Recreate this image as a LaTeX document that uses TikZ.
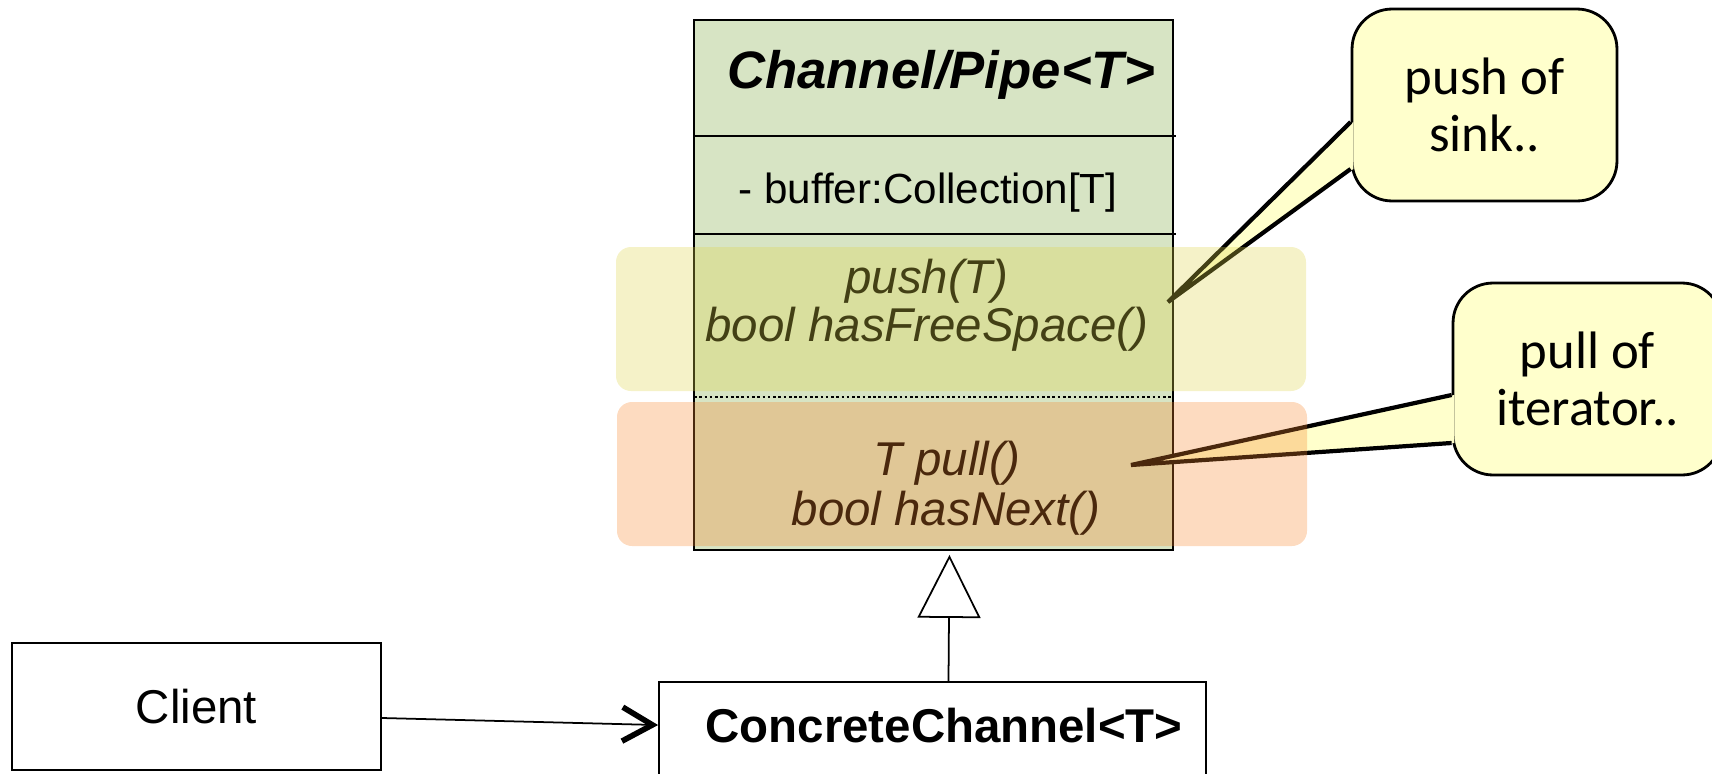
\documentclass[tikz,border=0pt]{standalone}
\usepackage{fontspec}
\setmainfont{Liberation Sans}
\newfontfamily\notefont{Carlito}
\usetikzlibrary{arrows.meta}

\definecolor{classgreen}{RGB}{215,228,196}
\definecolor{notefill}{RGB}{255,255,204}
\definecolor{pushhl}{RGB}{222,212,72}
\definecolor{pullhl}{RGB}{248,135,45}

\begin{document}
\begin{tikzpicture}[x=0.02cm,y=-0.02cm,
    umlbox/.style={draw,line width=1.1pt,inner sep=0pt},
    member/.style={anchor=base,font=\fontsize{24}{29}\selectfont},
    method/.style={anchor=base,font=\itshape\fontsize{27}{32}\selectfont},
    note/.style={draw,fill=notefill,line width=1.6pt,rounded corners=0.8cm,
                 inner sep=0pt,align=center,
                 font=\notefont\fontsize{30}{32.3}\selectfont},
    highlight/.style={rounded corners=0.3cm,fill opacity=0.3}]
    \useasboundingbox (0,0) rectangle (1712,774);

    % the channel class
    \node[umlbox,fill=classgreen,minimum width=9.58cm,minimum height=10.6cm]
        (channel) at (933.5,285) {};
    \draw[line width=1.1pt] (694,136) -- (1176,136);
    \draw[line width=1.1pt] (694,234) -- (1176,234);
    \draw[line width=1pt,dash pattern=on 1.5pt off 1.5pt] (694,397) -- (1173,397);
    \node[anchor=base,font=\bfseries\itshape\fontsize{30}{36}\selectfont]
        (title) at (941,88) {Channel/Pipe<T>};
    \node[member] (buffer) at (928,203) {- buffer:Collection[T]};
    \node[method] (push) at (927,293) {push(T)};
    \node[method] (freespace) at (927,341) {bool hasFreeSpace()};
    \node[method] (pull) at (947,475) {T pull()};
    \node[method] (hasnext) at (946,525) {bool hasNext()};

    % subclass and client
    \node[umlbox,fill=white,minimum width=10.94cm,minimum height=3cm,anchor=north]
        (concrete) at (932.5,681) {};
    \node[anchor=base,font=\bfseries\fontsize{27}{32}\selectfont]
        (concretename) at (944,742) {ConcreteChannel<T>};
    \node[umlbox,minimum width=7.38cm,minimum height=2.54cm,
          font=\fontsize{27}{32}\selectfont] (client) at (196.5,706.5) {Client};

    \draw[line width=1pt,shorten >=0.08cm,
          -{Triangle[open,length=1.26cm,width=1.26cm]}]
        ([xshift=0.32cm]concrete.north) -- ([xshift=0.32cm]channel.south);
    \draw[line width=1pt,
          -{Straight Barb[length=0.6cm,width=0.68cm,line width=3.2pt]}]
        ([yshift=-0.23cm]client.east) -- (concrete.west |- concretename);

    % notes
    \node[note,minimum width=5.3cm,minimum height=3.84cm]
        (pushnote) at (1484.5,105) {push of\\sink..};
    \coordinate (pushtip) at (1168,302);
    \fill[notefill] ([yshift=-0.34cm,xshift=1.5pt]pushnote.west) -- (pushtip)
        -- ([yshift=-1.28cm,xshift=1.5pt]pushnote.west) -- cycle;
    \draw[line width=2.4pt] ([yshift=-0.34cm]pushnote.west) -- (pushtip)
        -- ([yshift=-1.28cm]pushnote.west);

    \node[note,minimum width=5.38cm,minimum height=3.84cm]
        (pullnote) at (1587.5,379) {pull of\\iterator..};
    \coordinate (pulltip) at (1131,465);
    \fill[notefill] ([yshift=-0.32cm,xshift=1.5pt]pullnote.west) -- (pulltip)
        -- ([yshift=-1.28cm,xshift=1.5pt]pullnote.west) -- cycle;
    \draw[line width=2.4pt] ([yshift=-0.32cm]pullnote.west) -- (pulltip)
        -- ([yshift=-1.28cm]pullnote.west);

    % highlights
    \fill[pushhl,highlight] (616,247) rectangle (1306,391);
    \fill[pullhl,highlight] (617,402) rectangle (1307,546);
\end{tikzpicture}
\end{document}
